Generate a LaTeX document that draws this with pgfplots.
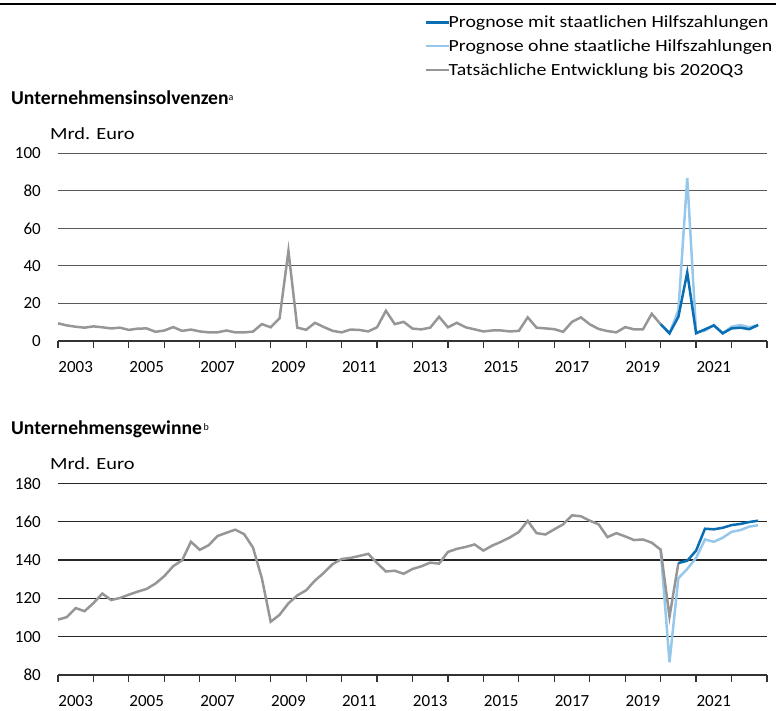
\documentclass[border=0pt]{standalone}
\usepackage{pgfplots}
\usepackage{pgfplotstable}
\pgfplotsset{compat=1.18}
\usepackage{fontspec}
\setmainfont{Carlito}
\newfontfamily\widefont[FakeStretch=1.165]{Carlito}
\newfontfamily\mrdfont[FakeStretch=1.2]{Carlito}
\definecolor{dblue}{RGB}{10,110,180}
\definecolor{lblue}{RGB}{150,200,235}
\definecolor{lgray}{RGB}{150,150,150}

\pgfplotstableread{
i y
0 9.4
1 8.3
2 7.6
3 7.1
4 7.8
5 7.3
6 6.7
7 7.1
8 5.9
9 6.6
10 6.7
11 4.9
12 5.6
13 7.4
14 5.4
15 6.1
16 5.1
17 4.6
18 4.6
19 5.6
20 4.6
21 4.6
22 5.0
23 9.0
24 7.3
25 12.1
26 48.0
27 7.1
28 6.0
29 9.7
30 7.4
31 5.4
32 4.6
33 6.1
34 5.9
35 5.1
36 7.3
37 16.1
38 9.0
39 10.2
40 6.6
41 6.2
42 7.1
43 12.9
44 7.3
45 9.7
46 7.3
47 6.2
48 5.1
49 5.6
50 5.6
51 5.1
52 5.4
53 12.6
54 7.1
55 6.7
56 6.3
57 4.9
58 10.2
59 12.6
60 8.9
61 6.4
62 5.3
63 4.6
64 7.4
65 6.2
66 6.2
67 14.5
68 8.9
}\insgray
\pgfplotstableread{
i y
68 8.9
69 4.1
70 12.9
71 36.5
72 4.1
73 6.2
74 8.3
75 4.1
76 6.7
77 7.1
78 6.3
79 8.5
}\insdark
\pgfplotstableread{
i y
68 8.9
69 4.1
70 16.5
71 86.9
72 4.6
73 5.5
74 8.5
75 4.1
76 7.6
77 8.5
78 7.3
79 8.5
}\inslight
\pgfplotstableread{
i y
0 108.9
1 110.2
2 114.9
3 113.3
4 117.5
5 122.5
6 119.1
7 120.2
8 121.9
9 123.5
10 124.9
11 127.7
12 131.6
13 136.8
14 139.8
15 149.5
16 145.3
17 147.7
18 152.5
19 154.2
20 155.8
21 153.5
22 146.5
23 130.5
24 107.8
25 111.4
26 117.4
27 121.5
28 124.2
29 129.3
30 133.3
31 137.9
32 140.5
33 141.1
34 142.1
35 143.2
36 138.4
37 134.0
38 134.4
39 132.8
40 135.3
41 136.7
42 138.6
43 138.1
44 144.2
45 145.8
46 146.8
47 148.1
48 144.9
49 147.5
50 149.5
51 151.8
52 154.6
53 160.4
54 154.0
55 153.3
56 156.0
57 158.6
58 163.3
59 162.8
60 160.5
61 158.6
62 151.9
63 154.0
64 152.3
65 150.4
66 150.7
67 149.0
68 145.4
69 110.4
70 138.4
}\gewgray
\pgfplotstableread{
i y
70 138.4
71 139.6
72 144.9
73 156.3
74 156.0
75 156.8
76 158.2
77 158.8
78 159.8
79 160.5
}\gewdark
\pgfplotstableread{
i y
68 145.4
69 86.7
70 130.5
71 135.3
72 141.1
73 150.7
74 149.5
75 151.6
76 154.7
77 155.6
78 157.4
79 158.1
}\gewlight

\pgfplotsset{
  base/.style={
    scale only axis,
    width=709pt,
    xmin=2003, xmax=2023,
    axis x line*=bottom,
    axis y line*=left,
    y axis line style={draw=none},
    x axis line style={line width=1.3pt, black!80},
    xtick={2003,2004,...,2023},
    xticklabels={},
    tick align=outside,
    major tick length=7pt,
    xtick style={line width=1.2pt, black!80},
    ytick style={draw=none},
    ymajorgrids,
    extra x ticks={2003.5,2005.5,2007.5,2009.5,2011.5,2013.5,2015.5,2017.5,2019.5,2021.5},
    extra x tick labels={2003,2005,2007,2009,2011,2013,2015,2017,2019,2021},
    extra x tick style={major tick length=0pt, grid=none,
      xticklabel style={anchor=north, inner sep=0pt, yshift=-20pt}},
    yticklabel style={anchor=east, inner sep=0pt, xshift=-10pt},
    tick label style={font=\fontsize{17}{17}\selectfont},
    /pgf/number format/assume math mode=true,
    clip=false,
  },
}

\begin{document}
\begin{tikzpicture}
\useasboundingbox (0pt,0pt) rectangle (776pt,-711pt);
\draw[line width=2pt, black] (0pt,-4pt) -- (776pt,-4pt);

\node[anchor=west, inner sep=0pt, font=\bfseries\fontsize{19.6}{19.6}\selectfont] at (11pt,-98pt)
  {Unternehmensinsolvenzen{\normalfont\fontsize{10}{10}\selectfont\raisebox{4pt}{a}}};
\node[anchor=west, inner sep=0pt, font=\mrdfont\fontsize{17}{17}\selectfont] at (50pt,-134pt) {Mrd. Euro};
\node[anchor=west, inner sep=0pt, font=\bfseries\fontsize{19.6}{19.6}\selectfont] at (11pt,-429pt)
  {Unternehmensgewinne{\normalfont\fontsize{10}{10}\selectfont\raisebox{4pt}{\,b}}};
\node[anchor=west, inner sep=0pt, font=\mrdfont\fontsize{17}{17}\selectfont] at (50pt,-464pt) {Mrd. Euro};

\begin{axis}[base,
  at={(58pt,-341pt)}, anchor=south west,
  height=187.7pt,
  ymin=0, ymax=100, ytick={0,20,...,100},
  grid style={line width=1.1pt, black!65},
  legend style={at={(0.5176,1.745)}, anchor=north west, draw=none, fill=none,
    font=\widefont\fontsize{17}{17}\selectfont, inner sep=0pt, row sep=6.5pt,
    cells={anchor=west}},
  legend image code/.code={\draw[#1, line width=2.5pt] (0pt,0pt) -- (23pt,0pt);},
  legend cell align=left,
]
\addlegendimage{dblue}
\addlegendentry{\hspace{-4pt}Prognose mit staatlichen Hilfszahlungen}
\addlegendimage{lblue}
\addlegendentry{\hspace{-4pt}Prognose ohne staatliche Hilfszahlungen}
\addlegendimage{lgray}
\addlegendentry{\hspace{-4pt}Tatsächliche Entwicklung bis 2020Q3}
\addplot[forget plot, lblue, line width=2.5pt] table[x expr=2003+\thisrow{i}/4, y=y] {\inslight};
\addplot[forget plot, lgray, line width=2.5pt] table[x expr=2003+\thisrow{i}/4, y=y] {\insgray};
\addplot[forget plot, dblue, line width=2.5pt] table[x expr=2003+\thisrow{i}/4, y=y] {\insdark};
\end{axis}

\begin{axis}[base,
  at={(58pt,-675pt)}, anchor=south west,
  height=191.7pt,
  ymin=80, ymax=180, ytick={80,100,...,180},
  grid style={line width=1.1pt, black!85},
]
\addplot[lblue, line width=2.5pt] table[x expr=2003+\thisrow{i}/4, y=y] {\gewlight};
\addplot[lgray, line width=2.5pt] table[x expr=2003+\thisrow{i}/4, y=y] {\gewgray};
\addplot[dblue, line width=2.5pt] table[x expr=2003+\thisrow{i}/4, y=y] {\gewdark};
\end{axis}
\end{tikzpicture}
\end{document}
